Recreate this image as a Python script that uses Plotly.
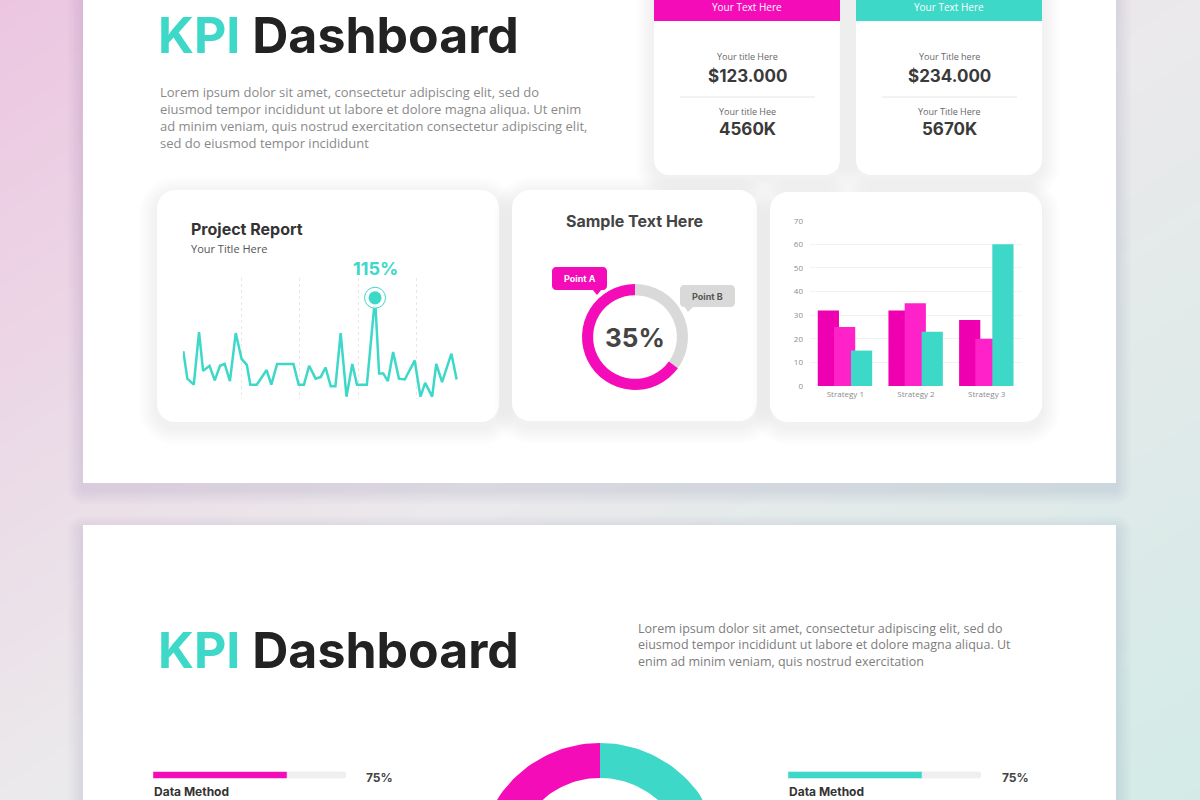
import numpy as np
import plotly.graph_objects as go

W, H = 1200, 800

# Gráfico de línea (Project Report)
linea_x = [0, 0.7, 1.8, 2.7, 3.4, 4.5, 5.4, 6.3, 7.1, 8, 9, 10, 10.9, 11.5, 12.6, 14.3,
           15.1, 16.1, 18.9, 19.8, 20.7, 21.6, 22.7, 23.6, 24.4, 25.3, 26.1, 27, 28, 29,
           29.8, 31.5, 32.9, 33.6, 34.3, 35.1, 36, 37, 38, 39.7, 40.7, 41.5, 42.7, 43.4,
           44.4, 46, 46.9]
linea_y = [53, 21, 14, 75, 30, 36, 19, 36, 38, 18, 74, 44, 37, 14, 14, 31, 14, 38, 38, 14,
           14, 36, 21, 23, 34, 12, 12, 74, 0, 38, 14, 14, 115, 27, 27, 18, 52, 21, 20, 42,
           0, 16, 0, 38, 17, 50, 20]

# Gráfico de barras
estrategias = ['Strategy 1', 'Strategy 2', 'Strategy 3']
serie_1 = [32, 32, 28]
serie_2 = [25, 35, 20]
serie_3 = [15, 23, 60]

# Dona
dona_etiquetas = ['Point B', 'Point A']
dona_valores = [35, 65]

# Tarjetas KPI
tarjeta_encabezado = ['Your Text Here', 'Your Text Here']
tarjeta_titulo_1 = ['Your title Here', 'Your Title here']
tarjeta_valor_1 = ['$123.000', '$234.000']
tarjeta_titulo_2 = ['Your title Hee', 'Your Title Here']
tarjeta_valor_2 = ['4560K', '5670K']

# Barras de progreso
progreso_etiquetas = ['Data Method', 'Data Method']
progreso_valores = [75, 75]
progreso_max = 108

# Arco inferior
arco_valores = [50, 50]

ROSA = '#f40cb9'
ROSA_OSC = '#ee00b0'
ROSA_CLARO = '#ff22c9'
TURQ = '#3ed8c9'
GRIS_TXT = '#8a8a8a'

parrafo_1 = ["Lorem ipsum dolor sit amet, consectetur adipiscing elit, sed do",
             "eiusmod tempor incididunt ut labore et dolore magna aliqua. Ut enim",
             "ad minim veniam, quis nostrud exercitation consectetur adipiscing elit,",
             "sed do eiusmod tempor incididunt"]
parrafo_2 = ["Lorem ipsum dolor sit amet, consectetur adipiscing elit, sed do",
             "eiusmod tempor incididunt ut labore et dolore magna aliqua. Ut",
             "enim ad minim veniam, quis nostrud exercitation"]


def dom_x(a, b):
    return [a / W, b / W]


def dom_y(arriba, abajo):
    return [1 - abajo / H, 1 - arriba / H]


def rrect(x0, y0, x1, y1, r):
    c = 0.552 * r
    return (f"M{x0+r},{y0} L{x1-r},{y0} C{x1-r+c},{y0} {x1},{y0+r-c} {x1},{y0+r} "
            f"L{x1},{y1-r} C{x1},{y1-r+c} {x1-r+c},{y1} {x1-r},{y1} "
            f"L{x0+r},{y1} C{x0+r-c},{y1} {x0},{y1-r+c} {x0},{y1-r} "
            f"L{x0},{y0+r} C{x0},{y0+r-c} {x0+r-c},{y0} {x0+r},{y0} Z")


shapes = []
annotations = []


def forma(path, fill):
    shapes.append(dict(type='path', path=path, xref='x2', yref='y2', fillcolor=fill,
                       line=dict(width=0), layer='below'))


def sombra(x0, y0, x1, y1, r, n=7, paso=2.5, dy=5, alfa=0.012):
    for i in range(n, 0, -1):
        d = i * paso
        forma(rrect(x0 - d, y0 - d + dy, x1 + d, y1 + d + dy, r + d), f'rgba(90,90,110,{alfa})')


def texto(x, y, s, size, color, weight=400, family='Open Sans', xanchor='center', xref='x2'):
    annotations.append(dict(x=x, y=y, xref=xref, yref='y2', text=s, showarrow=False,
                            xanchor=xanchor, yanchor='middle', align='left',
                            font=dict(family=family, size=size, color=color, weight=weight)))


# Diapositivas
sombra(83, -20, 1116, 483, 1, n=6, paso=2.5, dy=6, alfa=0.014)
forma(rrect(83, -20, 1116, 483, 0.5), 'white')
sombra(83, 525, 1116, 830, 1, n=6, paso=2.5, dy=6, alfa=0.014)
forma(rrect(83, 525, 1116, 830, 0.5), 'white')

# Tarjetas KPI superiores
for i, (x0, x1, col) in enumerate([(654, 840, ROSA), (856, 1042, TURQ)]):
    sombra(x0, -30, x1, 175, 15)
    forma(rrect(x0, -30, x1, 175, 15), 'white')
    forma(f"M{x0},-30 L{x1},-30 L{x1},21 L{x0},21 Z", col)
    xc = (x0 + x1) / 2
    shapes.append(dict(type='line', x0=x0 + 26, x1=x1 - 25, y0=97, y1=97, xref='x2', yref='y2',
                       line=dict(color='#e6e6e6', width=1), layer='below'))
    texto(xc, 7, tarjeta_encabezado[i], 10, 'white')
    texto(xc, 56, tarjeta_titulo_1[i], 9, '#666666')
    texto(xc, 76, tarjeta_valor_1[i], 17, '#3a3a3a', 700, 'Inter')
    texto(xc, 111, tarjeta_titulo_2[i], 9, '#666666')
    texto(xc, 129, tarjeta_valor_2[i], 17, '#3a3a3a', 700, 'Inter')

# Tarjetas segunda fila
for (x0, y0, x1, y1) in [(157, 190, 499, 422), (512, 190, 757, 421), (770, 192, 1042, 422)]:
    sombra(x0, y0, x1, y1, 18)
    forma(rrect(x0, y0, x1, y1, 18), 'white')

# Etiquetas Point A / Point B
forma(rrect(552, 267, 607, 290, 4), ROSA)
forma("M592,289 L602,289 L597,295 Z", ROSA)
forma(rrect(680, 285, 735, 307, 4), '#d9d9d9')
forma("M684,306 L694,306 L688,312 Z", '#d9d9d9')

# Textos
titulo = f"<span style='color:{TURQ}'>KPI</span> Dashboard"
texto(156, 35, titulo, 50, '#222222', 700, 'Inter', 'left')
texto(158, 117, '<br>'.join(parrafo_1), 13, GRIS_TXT, 400, 'Open Sans', 'left')
texto(156, 650, titulo, 50, '#222222', 700, 'Inter', 'left')
texto(636, 644.5, '<br>'.join(parrafo_2), 12.5, '#7d7d7d', 400, 'Open Sans', 'left')

texto(189, 229, 'Project Report', 16, '#333333', 700, 'Inter', 'left')
texto(189, 248, 'Your Title Here', 11, '#555555', 400, 'Open Sans', 'left')
texto(634, 221, 'Sample Text Here', 16, '#444444', 700, 'Inter')
texto(580, 278, dona_etiquetas[1], 9, 'white', 700, 'Inter')
texto(707, 296, dona_etiquetas[0], 9, '#555555', 700, 'Inter')
texto(635, 337, f"{dona_valores[0]}%", 26, '#444444', 700, 'Inter')

pico = int(np.argmax(linea_y))
texto(linea_x[pico], 268, f"{linea_y[pico]}%", 18, TURQ, 700, 'Inter', 'center', 'x3')

for i, xs in enumerate([(153, 379), (788, 1015)]):
    texto(xs[1], 777, f"{progreso_valores[i]}%", 12, '#444444', 700, 'Inter')
    texto(xs[0] - 1, 791, progreso_etiquetas[i], 12, '#333333', 700, 'Inter', 'left')

fig = go.Figure()

# Fondo degradado
fig.add_trace(go.Heatmap(z=[[0, 0.5], [0.5, 1]], x=[0, W], y=[0, H], zsmooth='best',
                         colorscale=[[0, '#ecc6e1'], [0.5, '#ebe9eb'], [1, '#d3ebe7']],
                         showscale=False, hoverinfo='skip', xaxis='x', yaxis='y'))
fig.add_trace(go.Scatter(x=[], y=[], xaxis='x2', yaxis='y2', showlegend=False))

# Línea
fig.add_trace(go.Scatter(x=linea_x, y=linea_y, mode='lines', line=dict(color=TURQ, width=2.5),
                         xaxis='x3', yaxis='y3', showlegend=False, hoverinfo='skip'))
fig.add_trace(go.Scatter(x=[linea_x[pico]], y=[linea_y[pico]], mode='markers',
                         marker=dict(size=21, color='rgba(255,255,255,0.9)', line=dict(color=TURQ, width=1)),
                         xaxis='x3', yaxis='y3', showlegend=False, hoverinfo='skip'))
fig.add_trace(go.Scatter(x=[linea_x[pico]], y=[linea_y[pico]], mode='markers',
                         marker=dict(size=13, color=TURQ), xaxis='x3', yaxis='y3',
                         showlegend=False, hoverinfo='skip'))

# Barras
for serie, color, off in [(serie_1, ROSA_OSC, -0.39), (serie_2, ROSA_CLARO, -0.16), (serie_3, TURQ, 0.08)]:
    fig.add_trace(go.Bar(x=estrategias, y=serie, width=0.3, offset=off, marker_color=color,
                         marker_line_width=0, xaxis='x4', yaxis='y4', showlegend=False))

# Progreso
for i, (eje, color) in enumerate([('5', ROSA), ('6', TURQ)]):
    fig.add_trace(go.Bar(x=[progreso_max], y=[0], orientation='h', width=1,
                         marker=dict(color='#efefef', cornerradius=4), xaxis='x' + eje, yaxis='y' + eje,
                         showlegend=False, hoverinfo='skip'))
    fig.add_trace(go.Bar(x=[progreso_valores[i]], y=[0], orientation='h', width=1,
                         marker=dict(color=color, cornerradius=4), xaxis='x' + eje, yaxis='y' + eje,
                         showlegend=False, hoverinfo='skip'))

# Arco inferior
cx, cy, R, r = 600, 865, 122, 87
acum = np.concatenate([[0], np.cumsum(arco_valores)]) / sum(arco_valores) * 2 * np.pi
for i, color in enumerate([TURQ, ROSA]):
    t = np.linspace(acum[i], acum[i + 1], 80)
    xs = np.concatenate([cx + R * np.sin(t), cx + r * np.sin(t[::-1])])
    ys = np.concatenate([cy - R * np.cos(t), cy - r * np.cos(t[::-1])])
    fig.add_trace(go.Scatter(x=xs, y=ys, fill='toself', fillcolor=color, mode='lines',
                             line=dict(width=0, color=color), xaxis='x7', yaxis='y7',
                             showlegend=False, hoverinfo='skip'))

# Dona
fig.add_trace(go.Pie(values=dona_valores, labels=dona_etiquetas, hole=0.79, sort=False,
                     direction='clockwise', rotation=0, textinfo='none', hoverinfo='skip',
                     marker=dict(colors=['#d9d9d9', ROSA]), showlegend=False,
                     domain=dict(x=dom_x(582, 688), y=dom_y(284, 390))))

oculto = dict(visible=False, fixedrange=True, automargin=False)
fig.update_layout(
    width=W, height=H, margin=dict(l=0, r=0, t=0, b=0, pad=0, autoexpand=False),
    paper_bgcolor='white', plot_bgcolor='rgba(0,0,0,0)',
    barmode='overlay', showlegend=False,
    shapes=shapes, annotations=annotations,
    xaxis=dict(domain=[0, 1], range=[0, W], **oculto),
    yaxis=dict(domain=[0, 1], range=[H, 0], **oculto),
    xaxis2=dict(domain=[0, 1], range=[0, W], anchor='y2', **oculto),
    yaxis2=dict(domain=[0, 1], range=[H, 0], anchor='x2', **oculto),
    xaxis3=dict(domain=dom_x(183, 475), range=[-0.05, 50.05], anchor='y3', showgrid=True,
                gridcolor='#e8e8e8', griddash='dot', dtick=10, tick0=0, zeroline=False,
                showticklabels=False, ticks='', showline=False, fixedrange=True, automargin=False),
    yaxis3=dict(domain=dom_y(278, 399), range=[-2.7, 138], anchor='x3', **oculto),
    xaxis4=dict(domain=dom_x(810, 1022), type='category', range=[-0.5, 2.5], anchor='y4',
                showgrid=False, showline=False, ticks='', ticklabelstandoff=2, automargin=False,
                tickfont=dict(family='Open Sans', size=8, color='#8c8c8c'), fixedrange=True),
    yaxis4=dict(domain=dom_y(220.7, 386), range=[0, 70], dtick=10, anchor='x4', automargin=False,
                gridcolor='#f2f2f2', zeroline=False, showline=False, ticks='', ticklabelstandoff=6,
                tickfont=dict(family='Open Sans', size=8, color='#8c8c8c'), fixedrange=True),
    xaxis5=dict(domain=dom_x(153, 346), range=[0, progreso_max], anchor='y5', **oculto),
    yaxis5=dict(domain=dom_y(771.5, 778.5), range=[-0.5, 0.5], anchor='x5', **oculto),
    xaxis6=dict(domain=dom_x(788, 981), range=[0, progreso_max], anchor='y6', **oculto),
    yaxis6=dict(domain=dom_y(771.5, 778.5), range=[-0.5, 0.5], anchor='x6', **oculto),
    xaxis7=dict(domain=dom_x(440, 760), range=[440, 760], anchor='y7', **oculto),
    yaxis7=dict(domain=dom_y(730, 800), range=[800, 730], anchor='x7', **oculto),
)

# quitar el margen del body para que la figura quede en la esquina
ajuste = ("document.body.style.margin='0';document.body.style.overflow='hidden';"
          "var d=document.getElementById('{plot_id}');d.style.position='absolute';"
          "d.style.left='0px';d.style.top='0px';")
fig.write_html("out.html", config={'displayModeBar': False}, post_script=ajuste)
